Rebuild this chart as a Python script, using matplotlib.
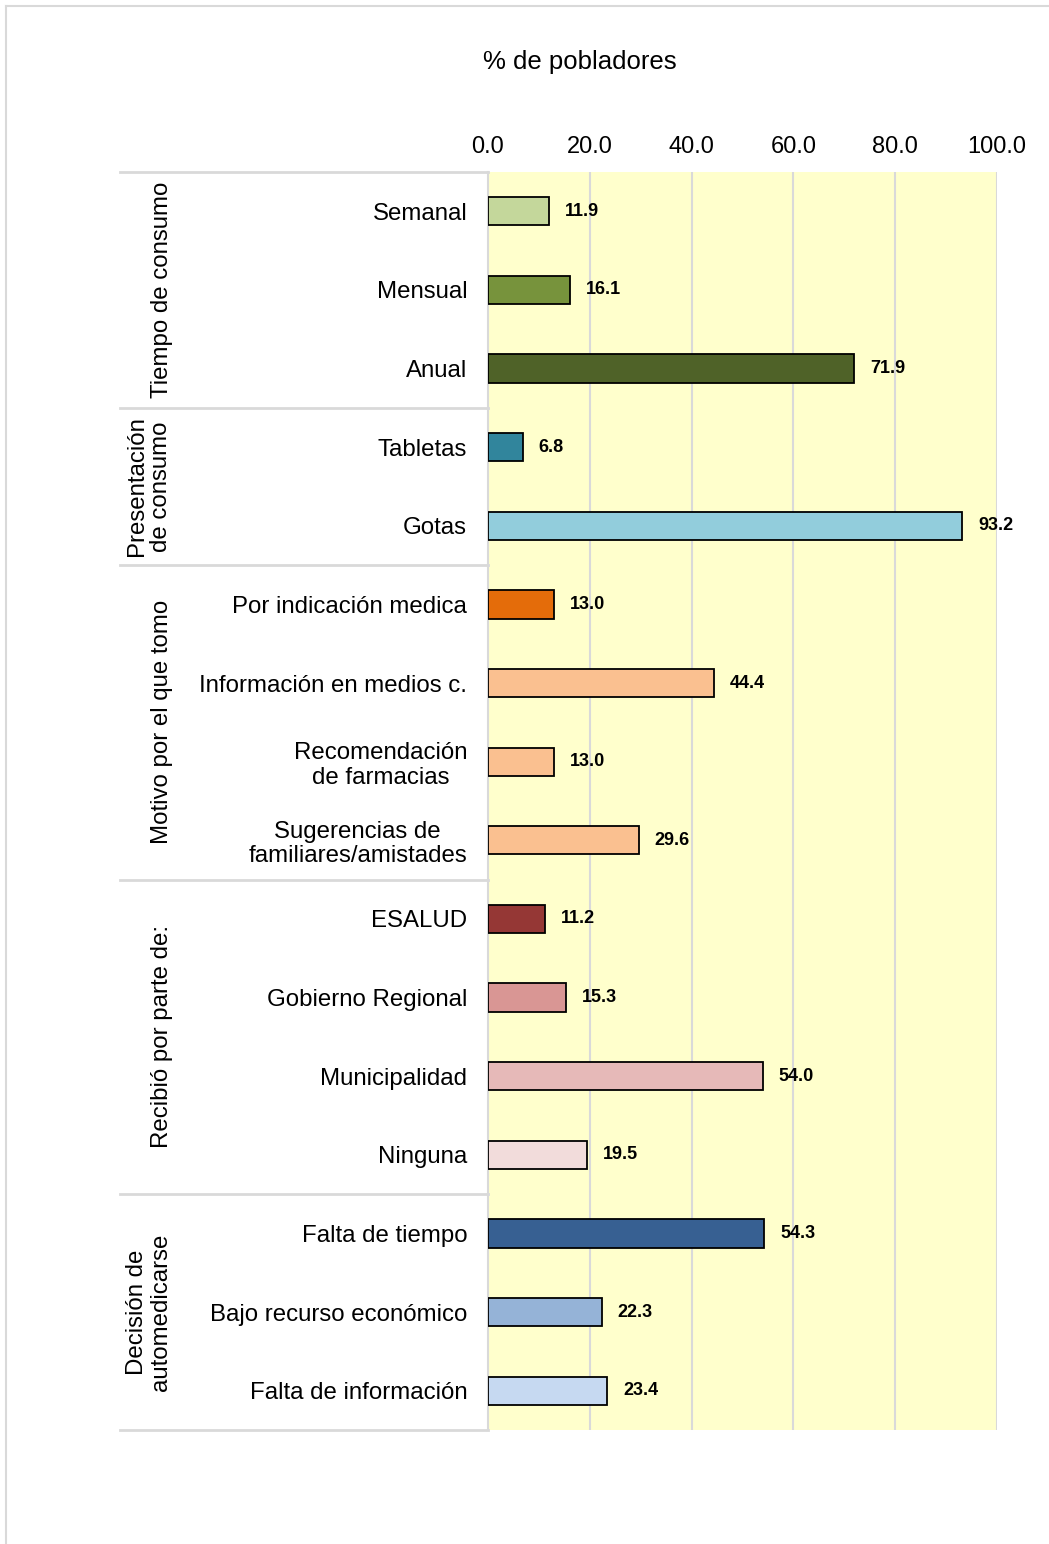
import matplotlib
matplotlib.use("Agg")
import matplotlib.pyplot as plt
import matplotlib.transforms as mtransforms

plt.rcParams['font.family'] = ['Liberation Sans', 'DejaVu Sans']

categories = ["Semanal", "Mensual", "Anual", "Tabletas", "Gotas",
              "Por indicación medica", "Información en medios c.",
              "Recomendación\nde farmacias", "Sugerencias de\nfamiliares/amistades",
              "ESALUD", "Gobierno Regional", "Municipalidad", "Ninguna",
              "Falta de tiempo", "Bajo recurso económico", "Falta de información"]
values = [11.9, 16.1, 71.9, 6.8, 93.2, 13.0, 44.4, 13.0, 29.6,
          11.2, 15.3, 54.0, 19.5, 54.3, 22.3, 23.4]
colors = ["#C4D79B", "#77933C", "#4F6228", "#31859C", "#92CDDC",
          "#E46C0A", "#FAC090", "#FAC090", "#FAC090",
          "#953735", "#D99694", "#E6B9B8", "#F2DCDB",
          "#376092", "#95B3D7", "#C6D9F1"]
groups = ["Tiempo de consumo", "Presentación\nde consumo", "Motivo por el que tomo",
          "Recibió por parte de:", "Decisión de\nautomedicarse"]
group_sizes = [3, 2, 4, 4, 3]
xticks = [0, 20, 40, 60, 80, 100]

W, H = 1049, 1544
fig = plt.figure(figsize=(W / 100, H / 100), dpi=100)
ax = fig.add_axes([488 / W, 1 - 1430 / H, 509 / W, (1430 - 172) / H])
ax.set_facecolor("#FFFFCC")

n = len(categories)
ypos = list(range(n))
ax.barh(ypos, values, height=0.36, color=colors, edgecolor="black", linewidth=1.3, zorder=3)
ax.set_ylim(n - 0.5, -0.5)
ax.set_xlim(0, 100)

for y, v in zip(ypos, values):
    ax.annotate(f"{v:.1f}", (v, y), xytext=(11.5, 0), textcoords="offset points",
                ha="left", va="center", fontsize=13, fontweight="bold", color="black")

ax.set_yticks(ypos)
ax.set_yticklabels(categories, fontsize=17.3, multialignment="center", linespacing=1.15)
ax.tick_params(axis="y", length=0, pad=15)
ax.xaxis.tick_top()
ax.set_xticks(xticks)
ax.set_xticklabels([f"{t:.1f}" for t in xticks], fontsize=17)
ax.tick_params(axis="x", length=0, pad=10)

fig.text(580 / W, 1 - 62 / H, "% de pobladores", fontsize=18.5, ha="center", va="center")

for t in xticks[1:]:
    ax.axvline(t, color="#D9D9D9", linewidth=1.5, zorder=1)

for s in ["top", "right", "bottom"]:
    ax.spines[s].set_visible(False)
ax.spines["left"].set_color("#D9D9D9")
ax.spines["left"].set_linewidth(1.5)

trans = mtransforms.blended_transform_factory(ax.transAxes, ax.transData)
x0 = (120 - 488) / 509
start = -0.5
bounds = [start]
for g in group_sizes:
    start += g
    bounds.append(start)
for b in bounds:
    ax.plot([x0, 0], [b, b], transform=trans, color="#D9D9D9", linewidth=2, clip_on=False)
for gname, a, b in zip(groups, bounds[:-1], bounds[1:]):
    xl = (162 - 488) / 509 if "\n" not in gname else (149 - 488) / 509
    ax.text(xl, (a + b) / 2, gname, transform=trans, rotation=90, ha="center", va="center",
            fontsize=17.3, multialignment="center", linespacing=1.15)

# figure frame
fig.add_artist(plt.Line2D([6 / W, 1], [1 - 6 / H, 1 - 6 / H], color="#D9D9D9", linewidth=1.5))
fig.add_artist(plt.Line2D([6 / W, 6 / W], [0, 1 - 6 / H], color="#D9D9D9", linewidth=1.5))

fig.savefig("out.png", dpi=100, facecolor="white")
